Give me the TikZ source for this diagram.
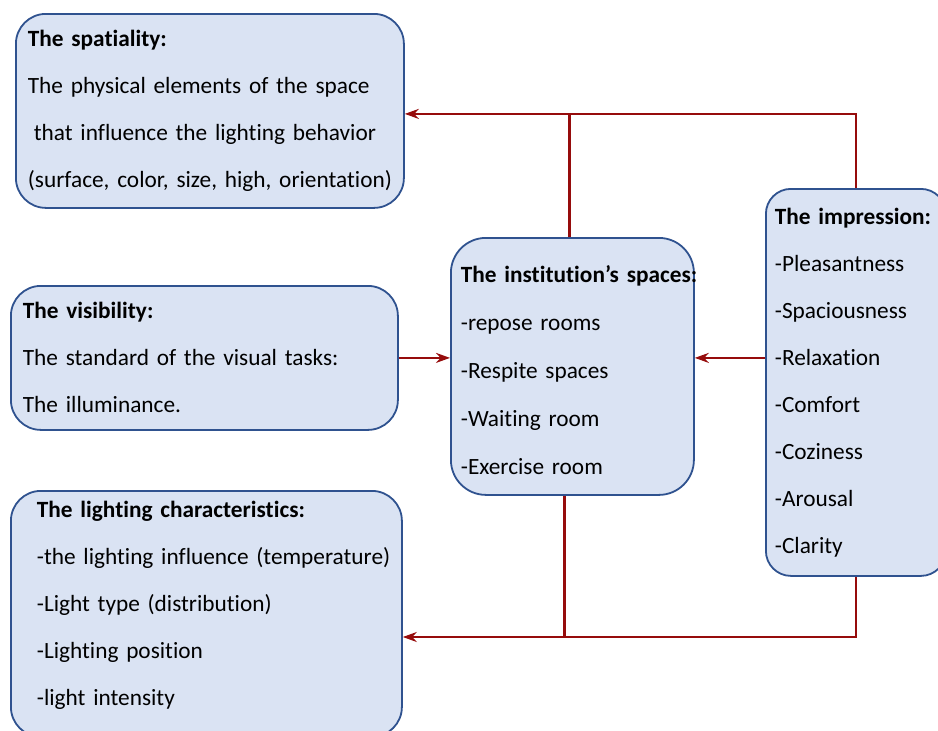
\documentclass[tikz,border=0pt]{standalone}
\usepackage{fontspec}
\setmainfont{Carlito}[Ligatures=NoCommon]
\usetikzlibrary{arrows.meta}
\definecolor{boxfill}{RGB}{218,227,243}
\definecolor{boxline}{RGB}{47,82,143}
\definecolor{linkred}{RGB}{150,12,12}

\begin{document}
\begin{tikzpicture}[x=1pt, y=-1pt,
    box/.style={draw=boxline, fill=boxfill, line width=1.8pt, rounded corners=30pt,
      anchor=north west, align=left, font=\fontsize{23.3}{47}\selectfont},
    link/.style={draw=linkred, line width=2.2pt},
    linkarrow/.style={link, -{Stealth[length=14pt,width=10pt]}}]
                    \useasboundingbox (0,0) rectangle (938,731);
                    \clip (0,0) rectangle (938,731);
                    % left column
                    \node[box, inner xsep=12pt, text width=364pt, minimum height=194pt] (spatial) at (15,13)
                      {\textbf{The spatiality:}\\ The physical elements of the space\\ \hspace*{6pt}that influence the lighting behavior\\ \mbox{(surface, color, size, high, orientation)}};
                    \node[box, inner xsep=12pt, text width=363pt, minimum height=144pt] (visib) at (10,285)
                      {\textbf{The visibility:}\\ The standard of the visual tasks:\\ The illuminance.};
                    \node[box, inner xsep=26pt, text width=339pt, minimum height=246pt] (light) at (10,490)
                      {\textbf{The lighting characteristics:}\\ \mbox{-the lighting influence (temperature)}\\ -Light type (distribution)\\ -Lighting position\\ -light intensity\rule[-22pt]{0pt}{0pt}};
                    % middle and right
                    \node[box, inner xsep=10pt, text width=223pt, minimum height=257pt, rounded corners=35pt,
                      font=\fontsize{23.3}{48}\selectfont] (inst) at (450,237)
                      {\rule{0pt}{24pt}\mbox{\textbf{The institution’s spaces:}}\\ -repose rooms\\ -Respite spaces\\ -Waiting room\\ -Exercise room};
                    \node[box, inner xsep=9pt, text width=162pt, minimum height=387pt, rounded corners=25pt] (impress) at (765,188)
                      {\mbox{\textbf{The impression:}}\\ -Pleasantness\\ -Spaciousness\\ -Relaxation\\ -Comfort\\ -Coziness\\ -Arousal\\ -Clarity};
                    % links
                    \coordinate (lowrail) at (0,637);
                    \draw[linkarrow] (impress.north) |- ([yshift=-3pt]spatial.east);
                    \draw[link] ([xshift=-3pt]inst.north) -- ([xshift=-3pt,yshift=-3pt]inst.north |- spatial.east);
                    \draw[linkarrow] (visib.east) -- (visib.east -| inst.west);
                    \draw[linkarrow] (impress.west |- visib.east) -- (inst.east |- visib.east);
                    \draw[linkarrow] (impress.south) |- (lowrail -| light.east);
                    \draw[link] ([xshift=-8pt]inst.south) -- ([xshift=-8pt]inst.south |- lowrail);
                \end{tikzpicture}
\end{document}
